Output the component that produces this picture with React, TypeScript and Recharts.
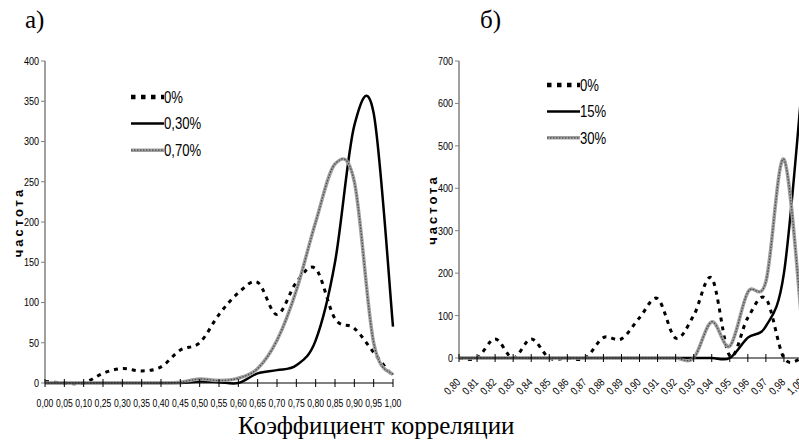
import React from 'react';
import { LineChart, Line, XAxis, YAxis, Legend } from 'recharts';

// а) — шаг 0,05
const LEFT_CATS = ['0,00', '0,05', '0,10', '0,25', '0,30', '0,35', '0,40', '0,45', '0,50', '0,55', '0,60', '0,65', '0,70', '0,75', '0,80', '0,85', '0,90', '0,95', '1,00'];
const LEFT_P0 = [2, 0, 0, 12, 18, 15, 20, 41, 50, 85, 112, 125, 85, 125, 142, 80, 68, 38, 8];
const LEFT_P030 = [0, 0, 0, 0, 0, 0, 0, 0, 2, 1, 0, 12, 16, 22, 53, 150, 320, 335, 70];
const LEFT_P070 = [0, 0, 0, 0, 0, 0, 0, 1, 5, 3, 6, 18, 53, 115, 200, 272, 250, 50, 10];
const LEFT_Y_TICKS = [0, 50, 100, 150, 200, 250, 300, 350, 400];

// б) — шаг 0,01
const RIGHT_CATS = ['0,80', '0,81', '0,82', '0,83', '0,84', '0,85', '0,86', '0,87', '0,88', '0,89', '0,90', '0,91', '0,92', '0,93', '0,94', '0,95', '0,96', '0,97', '0,98', '1,00'];
const RIGHT_P0 = [0, 0, 45, 0, 45, 0, 0, 0, 48, 45, 95, 140, 47, 100, 188, 5, 95, 140, 0, 0];
const RIGHT_P15 = [0, 0, 0, 0, 0, 0, 0, 0, 0, 0, 0, 0, 0, 0, 0, 0, 48, 75, 200, 640];
const RIGHT_P30 = [0, 0, 0, 0, 0, 0, 0, 0, 0, 0, 0, 0, 0, 0, 85, 28, 155, 180, 468, 80];
const RIGHT_Y_TICKS = [0, 100, 200, 300, 400, 500, 600, 700];

const LEFT_LEGEND = ['0%', '0,30%', '0,70%'];
const RIGHT_LEGEND = ['0%', '15%', '30%'];

const SANS = '"Liberation Sans", Arial, sans-serif';
const SERIF = '"Liberation Serif", "Times New Roman", serif';
const GREY = '#a0a0a0';
const GREY_DOTS = '#484848';
const SQUEEZE = 0.82; // Arial Narrow из обычного Arial

const leftData = LEFT_CATS.map((c, i) => ({ c, a: LEFT_P0[i], b: LEFT_P030[i], g: LEFT_P070[i] }));
const rightData = RIGHT_CATS.map((c, i) => ({ c, a: RIGHT_P0[i], b: RIGHT_P15[i], g: RIGHT_P30[i] }));

// сглаживание как в Excel (Catmull-Rom через точки)
const smooth = (context: any) => {
  let pts: number[][] = [];
  return {
    areaStart() {},
    areaEnd() {},
    lineStart() {
      pts = [];
    },
    lineEnd() {
      if (!pts.length) return;
      context.moveTo(pts[0][0], pts[0][1]);
      for (let i = 0; i < pts.length - 1; i++) {
        const p0 = pts[i - 1] || pts[i];
        const p1 = pts[i];
        const p2 = pts[i + 1];
        const p3 = pts[i + 2] || p2;
        context.bezierCurveTo(
          p1[0] + (p2[0] - p0[0]) / 6,
          p1[1] + (p2[1] - p0[1]) / 6,
          p2[0] - (p3[0] - p1[0]) / 6,
          p2[1] - (p3[1] - p1[1]) / 6,
          p2[0],
          p2[1]
        );
      }
    },
    point(x: number, y: number) {
      pts.push([+x, +y]);
    },
  };
};

const Narrow = ({ x, y, rotate = 0, size, anchor = 'start', dy = 0, children }: any) => (
  <text
    transform={`translate(${x} ${y}) rotate(${rotate}) scale(${SQUEEZE} 1)`}
    dy={dy}
    textAnchor={anchor}
    fontSize={size}
    fontFamily={SANS}
    fill="#000"
  >
    {children}
  </text>
);

const FlatTick = (props: any) => {
  const { x, y, payload } = props;
  return (
    <g>
      <line x1={x} x2={x} y1={y - 4} y2={y + 4} stroke="#000" />
      <Narrow x={x} y={y + 23.5} size={10.5} anchor="middle">
        {payload.value}
      </Narrow>
    </g>
  );
};

const SlantTick = (props: any) => {
  const { x, y, payload } = props;
  return (
    <g>
      <line x1={x} x2={x} y1={y - 4} y2={y + 4} stroke="#000" />
      <Narrow x={x + 2} y={y + 25} rotate={-45} size={11} anchor="end">
        {payload.value}
      </Narrow>
    </g>
  );
};

const YTick = (props: any) => {
  const { x, y, payload } = props;
  return (
    <Narrow x={x} y={y} size={11} anchor="end" dy="0.36em">
      {payload.value}
    </Narrow>
  );
};

const AxisTitle = (props: any) => {
  const { viewBox, cx } = props;
  const cy = viewBox.y + viewBox.height / 2;
  return (
    <text
      x={cx}
      y={cy}
      transform={`rotate(-90 ${cx} ${cy})`}
      textAnchor="middle"
      dominantBaseline="central"
      fontSize={13}
      fontWeight="bold"
      letterSpacing={3}
      fontFamily={SANS}
      fill="#000"
    >
      частота
    </text>
  );
};

const LegendBox = ({ labels, gap }: { labels: string[]; gap: number }) => (
  <svg width={100} height={labels.length * gap + 4} style={{ display: 'block', overflow: 'visible' }}>
    {labels.map((label, i) => {
      const cy = 8 + i * gap;
      return (
        <g key={label}>
          {i === 0 && <line x1={0} x2={33} y1={cy} y2={cy} stroke="#000" strokeWidth={4.5} strokeDasharray="4.5 5.5" />}
          {i === 1 && <line x1={0} x2={33} y1={cy} y2={cy} stroke="#000" strokeWidth={2.5} />}
          {i === 2 && (
            <g>
              <line x1={0} x2={33} y1={cy} y2={cy} stroke={GREY} strokeWidth={3.5} />
              <line x1={0} x2={33} y1={cy} y2={cy} stroke={GREY_DOTS} strokeWidth={1.2} strokeDasharray="1.5 1.5" />
            </g>
          )}
          <Narrow x={33} y={cy} size={16} dy="0.36em">
            {label}
          </Narrow>
        </g>
      );
    })}
  </svg>
);

const series = () => [
  <Line key="a" dataKey="a" type={smooth as any} stroke="#000" strokeWidth={3} strokeDasharray="4 5" dot={false} isAnimationActive={false} />,
  <Line key="b" dataKey="b" type={smooth as any} stroke="#000" strokeWidth={2.5} dot={false} isAnimationActive={false} />,
  <Line key="g" dataKey="g" type={smooth as any} stroke={GREY} strokeWidth={3.5} dot={false} isAnimationActive={false} />,
  <Line key="g2" dataKey="g" type={smooth as any} stroke={GREY_DOTS} strokeWidth={1.2} strokeDasharray="1.5 1.5" dot={false} legendType="none" isAnimationActive={false} />,
];

export default function App() {
  return (
    <div style={{ position: 'absolute', left: 0, top: 0, width: 799, height: 441, overflow: 'hidden', background: '#fff' }}>
      <div style={{ position: 'absolute', left: 25, top: 2, fontFamily: SERIF, fontSize: 25, lineHeight: '36px' }}>а)</div>
      <div style={{ position: 'absolute', left: 480, top: 2, fontFamily: SERIF, fontSize: 25, lineHeight: '36px' }}>б)</div>

      <div style={{ position: 'absolute', left: 0, top: 0 }}>
        <LineChart width={412} height={441} data={leftData} margin={{ top: 61, right: 19, bottom: 28, left: 0 }}>
          <XAxis dataKey="c" scale="point" interval={0} height={30} tickSize={0} tickMargin={0} tickLine={false} stroke="#000" tick={<FlatTick />} />
          <YAxis
            width={45}
            domain={[0, 400]}
            ticks={LEFT_Y_TICKS}
            interval={0}
            tickSize={4}
            tickMargin={2}
            axisLine={{ stroke: '#808080', strokeWidth: 1.5 }}
            tickLine={{ stroke: '#808080' }}
            tick={<YTick />}
            label={<AxisTitle cx={18} />}
          />
          {series()}
          <Legend
            layout="vertical"
            align="center"
            verticalAlign="middle"
            wrapperStyle={{ position: 'absolute', left: 131, top: 89, width: 100, height: 80 }}
            content={() => <LegendBox labels={LEFT_LEGEND} gap={26.6} />}
          />
        </LineChart>
      </div>

      <div style={{ position: 'absolute', left: 400, top: 0 }}>
        <LineChart width={412} height={441} data={rightData} margin={{ top: 61, right: 10, bottom: 33, left: 0 }}>
          <XAxis dataKey="c" scale="point" interval={0} height={50} tickSize={0} tickMargin={0} tickLine={false} stroke="#000" tick={<SlantTick />} />
          <YAxis
            width={59}
            domain={[0, 700]}
            ticks={RIGHT_Y_TICKS}
            interval={0}
            tickSize={4}
            tickMargin={2}
            axisLine={{ stroke: '#808080', strokeWidth: 1.5 }}
            tickLine={{ stroke: '#808080' }}
            tick={<YTick />}
            label={<AxisTitle cx={32} />}
          />
          {series()}
          <Legend
            layout="vertical"
            align="center"
            verticalAlign="middle"
            wrapperStyle={{ position: 'absolute', left: 147, top: 77, width: 100, height: 80 }}
            content={() => <LegendBox labels={RIGHT_LEGEND} gap={26.4} />}
          />
        </LineChart>
      </div>

      <div
        style={{
          position: 'absolute',
          left: 238,
          top: 411,
          whiteSpace: 'nowrap',
          fontFamily: SERIF,
          fontSize: 25,
          lineHeight: '30px',
        }}
      >
        Коэффициент корреляции
      </div>
    </div>
  );
}
